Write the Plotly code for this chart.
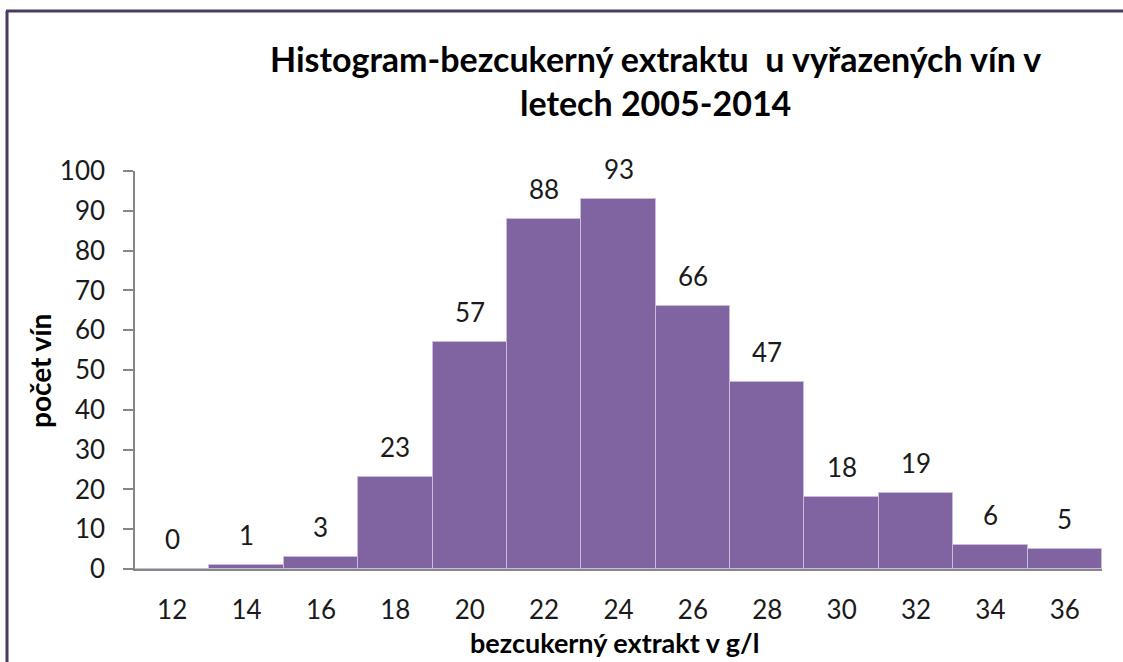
import plotly.graph_objects as go

categories = ["12", "14", "16", "18", "20", "22", "24", "26", "28", "30", "32", "34", "36"]
counts = [0, 1, 3, 23, 57, 88, 93, 66, 47, 18, 19, 6, 5]
y_ticks = list(range(0, 101, 10))

title_text = "Histogram-bezcukerný extraktu  u vyřazených vín v<br>letech 2005-2014"
x_title = "bezcukerný extrakt v g/l"
y_title = "počet vín"

FONT = "Lato"
PH = 398.0  # plot height px
PW = 967.0  # plot width px
TOP = 171.0
BOT = 569.0
LEFT = 135.0


def py(px):
    return (BOT - px) / PH


def px_(xpx):
    return (xpx - LEFT) / PW


fig = go.Figure()
fig.add_trace(go.Bar(
    x=categories,
    y=counts,
    marker=dict(color="#8064A2", line=dict(color="#C9BCDB", width=1)),
    hoverinfo="x+y",
))

# value labels, placed at each category's position on the category axis
label_annotations = [
    dict(x=i, y=v, xref="x", yref="y", text=str(v), showarrow=False,
         yanchor="middle", xanchor="center", yshift=30,
         font=dict(family=FONT, size=26, color="#1a1a1a"))
    for i, v in enumerate(counts)
]

fig.update_layout(
    width=1123, height=662,
    margin=dict(l=135, r=21, t=171, b=93),
    paper_bgcolor="white", plot_bgcolor="white",
    bargap=0,
    showlegend=False,
    font=dict(family=FONT, size=26, color="#1a1a1a"),
    annotations=label_annotations + [
        dict(text="<b>" + title_text + "</b>", x=px_(655), xref="paper", xanchor="center",
             y=py(80), yref="paper", yanchor="middle", showarrow=False,
             font=dict(family=FONT, size=34, color="#000000")),
        dict(text="<b>" + x_title + "</b>", x=px_(614), xref="paper", xanchor="center",
             y=py(642), yref="paper", yanchor="middle", showarrow=False,
             font=dict(family=FONT, size=27, color="#000000")),
        dict(text="<b>" + y_title + "</b>", x=px_(40), xref="paper", xanchor="center",
             y=py(371), yref="paper", yanchor="middle", showarrow=False, textangle=-90,
             font=dict(family=FONT, size=28, color="#000000")),
    ],
    shapes=[
        dict(type="line", xref="paper", yref="paper", x0=px_(6), x1=px_(1130), y0=py(11), y1=py(11),
             line=dict(color="#4B3B5E", width=3)),
        dict(type="line", xref="paper", yref="paper", x0=px_(7), x1=px_(7), y0=py(11), y1=py(700),
             line=dict(color="#4B3B5E", width=3)),
    ],
)
fig.update_xaxes(
    type="category",
    range=[-0.5, len(categories) - 0.5],
    showline=True, linecolor="#868686", linewidth=1.5,
    ticks="", showgrid=False, tickfont=dict(family=FONT, size=26, color="#1a1a1a"),
    ticklabelstandoff=17,
)
fig.update_yaxes(
    range=[0, 100], tickvals=y_ticks,
    showline=True, linecolor="#868686", linewidth=1.5,
    ticks="outside", ticklen=10, tickcolor="#868686", tickwidth=1.5,
    showgrid=False, zeroline=False,
    tickfont=dict(family=FONT, size=26, color="#1a1a1a"),
    ticklabelstandoff=13,
)

fig.write_html("out.html", post_script="document.body.style.margin='0';",
               config={"displayModeBar": False})
